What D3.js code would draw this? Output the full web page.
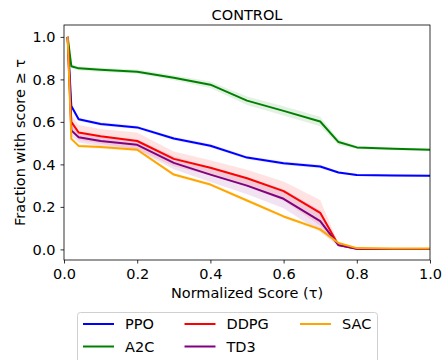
<!DOCTYPE html>
<html>
<head>
<meta charset="utf-8">
<script src="https://cdn.jsdelivr.net/npm/d3@7"></script>
<style>
  body { margin: 0; background: #fff; }
  svg { display: block; font-family: 'DejaVu Sans', sans-serif; }
</style>
</head>
<body>
<div id="chart"></div>
<script>
// thresholds (tau) and fraction of runs with score >= tau
const taus = [0.01, 0.02, 0.04, 0.1, 0.2, 0.3, 0.4, 0.5, 0.6, 0.7, 0.75, 0.8, 0.9, 1.0];
const seriesNames = ['PPO', 'A2C', 'DDPG', 'TD3', 'SAC'];
const seriesColors = ['#0000ff', '#008000', '#ff0000', '#800080', '#ffa500'];

const ppoVals  = [1.0, 0.675, 0.612, 0.59, 0.574, 0.522, 0.488, 0.432, 0.405, 0.39, 0.362, 0.35, 0.348, 0.346];
const a2cVals  = [1.0, 0.862, 0.852, 0.845, 0.836, 0.808, 0.775, 0.70, 0.652, 0.602, 0.505, 0.48, 0.473, 0.469];
const ddpgVals = [1.0, 0.6, 0.55, 0.532, 0.51, 0.426, 0.384, 0.335, 0.274, 0.172, 0.02, 0.003, 0.002, 0.002];
const td3Vals  = [1.0, 0.56, 0.528, 0.51, 0.492, 0.407, 0.352, 0.30, 0.238, 0.133, 0.02, 0.003, 0.002, 0.002];
const sacVals  = [1.0, 0.52, 0.487, 0.482, 0.469, 0.352, 0.305, 0.23, 0.155, 0.094, 0.03, 0.006, 0.004, 0.004];

// half-width of the confidence band
const ppoSpread  = [0, 0.01, 0.008, 0.008, 0.008, 0.008, 0.008, 0.008, 0.008, 0.008, 0.006, 0.005, 0.005, 0.005];
const a2cSpread  = [0, 0.01, 0.01, 0.01, 0.01, 0.012, 0.015, 0.02, 0.022, 0.022, 0.015, 0.008, 0.006, 0.006];
const ddpgSpread = [0, 0.03, 0.035, 0.035, 0.04, 0.035, 0.035, 0.04, 0.045, 0.06, 0.008, 0.003, 0.002, 0.002];
const td3Spread  = [0, 0.025, 0.025, 0.025, 0.025, 0.03, 0.035, 0.04, 0.045, 0.05, 0.008, 0.003, 0.002, 0.002];
const sacSpread  = [0, 0.01, 0.008, 0.008, 0.008, 0.008, 0.008, 0.008, 0.008, 0.01, 0.006, 0.003, 0.002, 0.002];

const xTicks = [0, 0.2, 0.4, 0.6, 0.8, 1.0];
const yTicks = [0, 0.2, 0.4, 0.6, 0.8, 1.0];

const allVals = [ppoVals, a2cVals, ddpgVals, td3Vals, sacVals];
const allSpread = [ppoSpread, a2cSpread, ddpgSpread, td3Spread, sacSpread];

const width = 444, height = 360;
const margin = {top: 25, right: 14, bottom: 100, left: 64};
const innerW = width - margin.left - margin.right;
const innerH = height - margin.top - margin.bottom;

const svg = d3.select('#chart').append('svg')
    .attr('width', width)
    .attr('height', height);

const scaleX = d3.scaleLinear().domain([0, 1]).range([0, innerW]);
const scaleY = d3.scaleLinear().domain([-0.05, 1.056]).range([innerH, 0]);

const g = svg.append('g')
    .attr('transform', 'translate(' + margin.left + ',' + margin.top + ')');

g.append('clipPath').attr('id', 'clip')
    .append('rect').attr('width', innerW).attr('height', innerH);

const plot = g.append('g').attr('clip-path', 'url(#clip)');

const series = seriesNames.map((name, i) => ({
  name: name,
  color: seriesColors[i],
  points: taus.map((t, j) => ({t: t, v: allVals[i][j], s: allSpread[i][j]}))
}));

// bands
series.forEach((s) => {
  plot.append('path')
      .attr('fill', s.color)
      .attr('fill-opacity', 0.11)
      .attr('stroke', 'none')
      .attr('d', d3.area()
          .x((p) => scaleX(p.t))
          .y0((p) => scaleY(p.v - p.s))
          .y1((p) => scaleY(p.v + p.s))(s.points));
});

// lines
series.forEach((s) => {
  plot.append('path')
      .attr('fill', 'none')
      .attr('stroke', s.color)
      .attr('stroke-width', 2)
      .attr('stroke-linejoin', 'round')
      .attr('d', d3.line()
          .x((p) => scaleX(p.t))
          .y((p) => scaleY(p.v))(s.points));
});

// axes
const xAxis = g.append('g')
    .attr('transform', 'translate(0,' + innerH + ')')
    .call(d3.axisBottom(scaleX).tickValues(xTicks).tickFormat(d3.format('.1f')).tickSize(3.5).tickPadding(5));
const yAxis = g.append('g')
    .call(d3.axisLeft(scaleY).tickValues(yTicks).tickFormat(d3.format('.1f')).tickSize(3.5).tickPadding(5));
[xAxis, yAxis].forEach((a) => {
  a.select('.domain').remove();
  a.selectAll('text').attr('font-size', 14.5).attr('fill', '#000')
      .attr('font-family', "'DejaVu Sans', sans-serif");
  a.selectAll('line').attr('stroke', '#000').attr('stroke-width', 0.8);
});

// frame
g.append('rect')
    .attr('width', innerW)
    .attr('height', innerH)
    .attr('fill', 'none')
    .attr('stroke', '#000')
    .attr('stroke-width', 0.8);

// title and labels
svg.append('text')
    .attr('x', margin.left + innerW / 2)
    .attr('y', 20)
    .attr('text-anchor', 'middle')
    .attr('font-size', 14.5)
    .text('CONTROL');

svg.append('text')
    .attr('x', margin.left + innerW / 2)
    .attr('y', 298)
    .attr('text-anchor', 'middle')
    .attr('font-size', 14.5)
    .text('Normalized Score (\u03c4)');

svg.append('text')
    .attr('transform', 'translate(25,' + (margin.top + innerH / 2) + ') rotate(-90)')
    .attr('text-anchor', 'middle')
    .attr('font-size', 14.5)
    .text('Fraction with score \u2265 \u03c4');

// legend
const legend = svg.append('g');
legend.append('rect')
    .attr('x', 77.5)
    .attr('y', 312.5)
    .attr('width', 300)
    .attr('height', 60)
    .attr('rx', 3)
    .attr('fill', '#fff')
    .attr('stroke', '#d0d0d0')
    .attr('stroke-width', 1);

const colX = [83, 184.5, 300];
const rowY = [324, 346.5];
series.forEach((s, i) => {
  const col = Math.floor(i / 2);
  const row = i % 2;
  const lx = colX[col], ly = rowY[row];
  legend.append('line')
      .attr('x1', lx).attr('x2', lx + 31)
      .attr('y1', ly).attr('y2', ly)
      .attr('stroke', s.color)
      .attr('stroke-width', 2);
  legend.append('text')
      .attr('x', lx + 42)
      .attr('y', ly + 5)
      .attr('font-size', 14.5)
      .text(s.name);
});
</script>
</body>
</html>
